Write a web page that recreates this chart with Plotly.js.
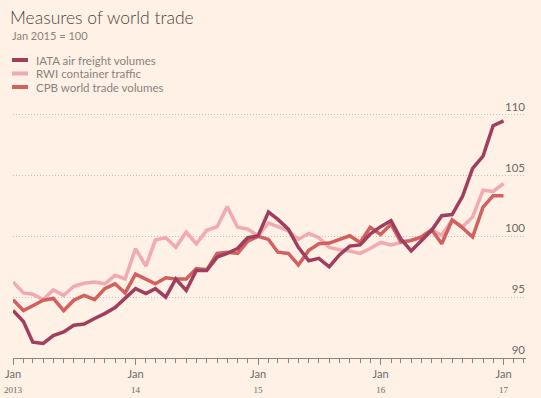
<!DOCTYPE html>
<html><head><meta charset="utf-8">
<script src="https://cdn.plot.ly/plotly-3.0.1.min.js"></script>
<style>html,body{margin:0;padding:0;background:#fff1e5;} #chart{width:541px;height:398px;}</style>
</head><body><div id="chart"></div>
<script>
// ---- data ----
const startYear = 2013;
const nMonths = 49; // Jan 2013 .. Jan 2017
const months = [];
for (let i = 0; i < nMonths; i++) {
  const y = startYear + Math.floor(i / 12), m = (i % 12) + 1;
  months.push(y + '-' + String(m).padStart(2, '0') + '-01');
}
const iata = [93.9, 93.0, 91.3, 91.2, 91.85, 92.15, 92.7, 92.8, 93.25, 93.65, 94.15, 94.9,
  95.7, 95.3, 95.7, 95.0, 96.5, 95.55, 97.2, 97.2, 98.3, 98.6, 99.0, 99.9,
  100.05, 102.0, 101.4, 100.6, 99.1, 98.0, 98.2, 97.5, 98.5, 99.2, 99.3, 100.2,
  100.8, 101.3, 99.8, 98.8, 99.6, 100.5, 101.7, 101.8, 103.3, 105.6, 106.6, 109.1,
  109.5];
const rwi = [96.25, 95.35, 95.25, 94.8, 95.6, 95.15, 95.9, 96.15, 96.25, 96.1, 96.8, 96.5,
  99.0, 97.55, 99.7, 99.9, 99.1, 100.35, 99.4, 100.5, 100.8, 102.45, 100.75, 100.6,
  100.05, 101.1, 100.8, 100.45, 99.75, 100.25, 99.9, 99.1, 98.9, 98.8, 98.6, 99.0,
  99.5, 99.3, 99.5, 99.7, 99.9, 100.5, 100.1, 101.35, 100.8, 101.6, 103.8, 103.7,
  104.35];
const cpb = [94.8, 93.9, 94.3, 94.75, 94.9, 93.9, 94.75, 95.15, 94.8, 95.7, 96.1, 95.35,
  96.9, 96.45, 96.1, 96.6, 96.5, 96.5, 97.35, 97.25, 98.6, 98.7, 98.6, 99.6,
  100.0, 99.75, 98.7, 98.6, 97.65, 98.85, 99.4, 99.45, 99.75, 100.05, 99.5, 100.75,
  100.15, 101.0, 99.55, 99.65, 99.95, 100.55, 99.4, 101.35, 100.7, 99.95, 102.4, 103.35,
  103.35];
const seriesNames = ['IATA air freight volumes', 'RWI container traffic', 'CPB world trade volumes'];
const xTickVals = ['2013-01-01', '2014-01-01', '2015-01-01', '2016-01-01', '2017-01-01'];
const xTickMonth = ['Jan', 'Jan', 'Jan', 'Jan', 'Jan'];
const xTickYear = ['2013', '14', '15', '16', '17'];
const yTickVals = [90, 95, 100, 105, 110];
const titleText = 'Measures of world trade';
const subtitleText = 'Jan 2015 = 100';

// ---- styles ----
const colors = {iata: '#a03e5d', rwi: '#f1aab0', cpb: '#d2605f'};
const bg = '#fff1e5';
const grey = '#6f6864';
const F = 'Lato, "Open Sans", sans-serif';

const series = [
  {name: seriesNames[1], y: rwi, color: colors.rwi},
  {name: seriesNames[2], y: cpb, color: colors.cpb},
  {name: seriesNames[0], y: iata, color: colors.iata}
];
const traces = series.map(s => ({
  type: 'scatter', mode: 'lines', x: months, y: s.y, name: s.name,
  line: {color: s.color, width: 3.5, shape: 'linear'}, hoverinfo: 'skip'
}));
// empty trace so that the label-only right axis (y2) is drawn
traces.push({type: 'scatter', mode: 'lines', x: [], y: [], yaxis: 'y2', showlegend: false, hoverinfo: 'skip'});

const ticktext = xTickMonth.map((m, i) =>
  m + '<br><span style="font-family:\'Liberation Serif\',serif;font-size:9px">' + xTickYear[i] + '</span>');

const plotL = 13, plotR = 526, plotT = 92, plotB = 358;
const pw = plotR - plotL, ph = plotB - plotT;
const px = x => (x - plotL) / pw;
const py = y => (plotB - y) / ph;
const yRange = [90, 90 + ph / 12.16];

const legendOrder = [
  {name: seriesNames[0], color: colors.iata, y: 60},
  {name: seriesNames[1], color: colors.rwi, y: 73.5},
  {name: seriesNames[2], color: colors.cpb, y: 87}
];
const shapes = legendOrder.map(e => ({
  type: 'line', xref: 'paper', yref: 'paper', x0: px(12), x1: px(28), y0: py(e.y), y1: py(e.y),
  line: {color: e.color, width: 4}
}));
const annotations = legendOrder.map(e => ({
  xref: 'paper', yref: 'paper', x: px(34), y: py(e.y), xanchor: 'left', yanchor: 'middle',
  text: e.name, showarrow: false, font: {family: F, size: 11.5, color: '#8a837e'}
}));
annotations.push({
  xref: 'paper', yref: 'paper', x: px(10), y: py(35), xanchor: 'left', yanchor: 'middle',
  text: subtitleText, showarrow: false, font: {family: F, size: 11, color: '#8a837e'}
});

const layout = {
  width: 541, height: 398,
  paper_bgcolor: bg, plot_bgcolor: bg,
  margin: {l: plotL, r: 541 - plotR, t: plotT, b: 398 - plotB, pad: 0},
  showlegend: false,
  title: {text: titleText, xref: 'container', yref: 'container', x: 10 / 541, xanchor: 'left',
          y: 1 - 17.5 / 398, yanchor: 'middle',
          font: {family: F, size: 17.5, color: '#4a4542', weight: 300}},
  xaxis: {
    type: 'date', range: ['2013-01-01', '2017-03-09'],
    tickmode: 'array', tickvals: xTickVals, ticktext: ticktext,
    ticks: 'outside', ticklen: 6, tickwidth: 1, tickcolor: '#8c8580',
    showline: true, linecolor: '#8c8580', linewidth: 1,
    showgrid: false, zeroline: false,
    tickfont: {family: F, size: 11, color: grey},
    minor: {dtick: 'M1', tick0: '2013-01-01', ticks: 'outside', ticklen: 4, tickcolor: '#8c8580', showgrid: false},
    fixedrange: true
  },
  yaxis: {
    side: 'right', range: yRange,
    tickmode: 'array', tickvals: yTickVals, showticklabels: false, ticks: '',
    showgrid: true, gridcolor: '#c9c0b7', griddash: '1px,2px', gridwidth: 1,
    zeroline: false, showline: false, fixedrange: true
  },
  yaxis2: {
    overlaying: 'y', anchor: 'free', position: 1, side: 'left', range: yRange,
    tickmode: 'array', tickvals: yTickVals,
    ticklabelposition: 'outside', ticklabelshift: -8, ticklabelstandoff: 1, ticks: '',
    showgrid: false, zeroline: false, showline: false,
    tickfont: {family: F, size: 11.5, color: grey},
    fixedrange: true
  },
  shapes: shapes,
  annotations: annotations
};

Plotly.newPlot('chart', traces, layout, {displayModeBar: false, staticPlot: true});
</script>
</body></html>
